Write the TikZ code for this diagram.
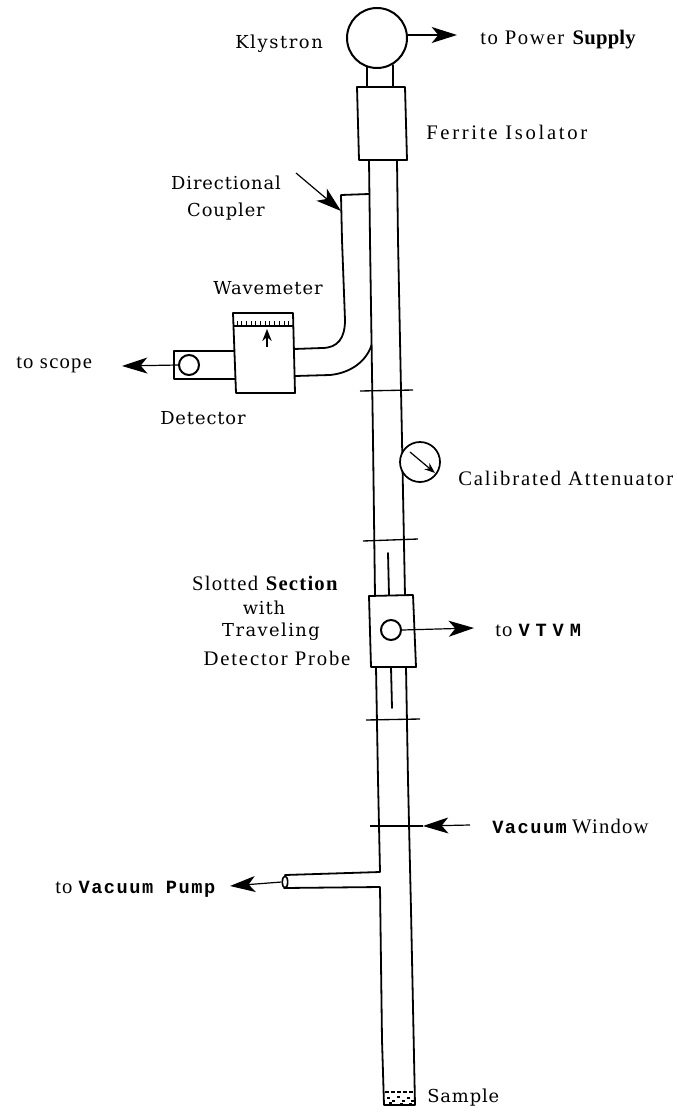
\documentclass[tikz,border=0pt]{standalone}
\usepackage{fontspec}
\setmainfont{Liberation Serif}
\newfontfamily\slabfont{DejaVu Serif}
\newfontfamily\typefont{Liberation Mono}
\usetikzlibrary{arrows.meta,shapes.geometric}
\newcommand{\vt}[1]{{\typefont\bfseries\fontsize{14}{16}\selectfont\addfontfeature{LetterSpace=8}#1}}
\newcommand{\lsp}[1]{\addfontfeature{LetterSpace=#1}}
\tikzset{
  x=0.75pt,y=-0.75pt,
  guide/.style={line width=1.35pt,line cap=round,line join=round},
  tickline/.style={line width=1pt},
  lead/.style={line width=0.9pt,-{Stealth[length=19pt,width=12pt,inset=5pt]}},
  lab/.style={font=\fontsize{15.5}{18}\selectfont,inner sep=0pt,text=black},
  slab/.style={font=\slabfont\fontsize{13.4}{20}\selectfont\addfontfeature{LetterSpace=5},inner sep=0pt,text=black},
  comp/.style={circle,draw,line width=1.5pt,inner sep=0pt,fill=white},
}
\begin{document}
\begin{tikzpicture}
\useasboundingbox (0,0) rectangle (677,1113);
% main guide
\draw[guide] (369,160) -- (370,240) -- (373,440) -- (375,596);
\draw[guide] (397,160) -- (398,240) -- (402,440) -- (405,596);
\draw[guide] (376,667) -- (378,780) -- (380,872) -- (285,875);
\draw[guide] (284,888) -- (380,887) -- (382,1040) -- (384,1105);
\draw[guide] (406,667) -- (408,780) -- (411,910) -- (415,1105);
% neck and isolator
\draw[guide] (367,65) -- (367,87);
\draw[guide] (393,65) -- (393,87);
\draw[guide,fill=white] (357,87) -- (405,87) -- (407,160) -- (359,160) -- cycle;
% coupler
\draw[guide] (369,194) -- (341,195) -- (342,240) -- (345,320)
  .. controls (345,338) and (338,348) .. (322,348) -- (294,349);
\draw[guide] (295,376) -- (330,375) .. controls (350,373) and (366,362) .. (371.6,345);
% ticks
\draw[tickline] (360,391) -- (413,390);
\draw[tickline] (363,541) -- (418,539);
\draw[tickline] (366,720) -- (420,719);
\draw[tickline] (370,826) -- (423,826);
% attenuator
\node[comp,minimum size=30pt,line width=1.3pt] (atten) at (420,462) {};
\coordinate (attenA) at (410,452);
\coordinate (attenB) at (435,473);
\draw[line width=0.9pt,-{Stealth[length=8pt,width=6pt]}] (attenA) -- (attenB);
% wavemeter
\draw[guide] (174,351) -- (235,351);
\draw[guide] (174,351) -- (174,379) -- (235,379);
\draw[guide,fill=white] (233,313) -- (293,313) -- (295,393) -- (236,393) -- cycle;
\draw[line width=1.8pt] (234,326) -- (293,326);
\foreach \i in {0,...,11} \draw[line width=.7pt] (237+\i*4.7,326) -- (237+\i*4.7,321);
\coordinate (wmA) at (267,347);
\coordinate (wmB) at (267,329);
\draw[line width=1.2pt,-{Stealth[length=9pt,width=7pt]}] (wmA) -- (wmB);
\node[comp,minimum size=15pt] (det) at (189,365) {};
\coordinate (scope) at (122,366);
\draw[lead] (det.west) -- (scope);
% klystron
\node[comp,minimum size=45pt] (kly) at (377,38) {};
\coordinate (psu) at (457,35);
\draw[lead] (kly.east |- psu) -- (psu);
\coordinate (dcA) at (296,173);
\coordinate (dcB) at (341,211);
\draw[lead] (dcA) -- (dcB);
% slotted section
\draw[guide] (388,553) -- (389,595);
\draw[guide] (391,667) -- (392,708);
\draw[guide,fill=white] (369,596) -- (413,595) -- (416,667) -- (371,667) -- cycle;
\node[comp,minimum size=15pt] (probe) at (391,630) {};
\coordinate (vtvm) at (474,628);
\draw[lead] (probe.east) -- (vtvm);
% vacuum window arrow
\coordinate (vwA) at (470,825);
\coordinate (vwB) at (423,826);
\draw[lead] (vwA) -- (vwB);
% pump
\node[draw,ellipse,line width=1.2pt,minimum width=4pt,minimum height=9pt,inner sep=0pt,fill=white] (port) at (285,882) {};
\coordinate (pump) at (230,886);
\draw[lead] (port.west) -- (pump);
% sample
\draw[line width=1.3pt,dash pattern=on 3pt off 1.5pt] (385,1092) -- (414,1092);
\draw[line width=1.4pt] (384,1105) -- (415,1105);
\foreach \x/\y in {387/1097,392/1100,397/1096,402/1100,407/1097,411/1100,389/1102,400/1103,409/1103}
  \fill (\x,\y) rectangle +(3,1.6);
% labels
\node[slab,anchor=west] (tk) at (235,44) {\lsp{9}Klystron};
\node[lab,anchor=west] (tp) at (480,40) {\lsp{8}to Power \textbf{\lsp{1}Supply}};
\node[lab,anchor=west] (tf) at (426,132) {\lsp{13}Ferrite Isolator};
\node[slab,align=center,anchor=center] (td) at (226,198) {Directional\\Coupler};
\node[slab,anchor=center] (tw) at (268,288) {Wavemeter};
\node[lab,anchor=west] (ts) at (16,365) {\lsp{6}to scope};
\node[slab,anchor=west] (tdet) at (160,418) {Detector};
\node[lab,anchor=west] (tc) at (458,478) {\lsp{9}Calibrated Attenuator};
\node[lab,anchor=center] (ts1) at (265.5,583) {\lsp{6}Slotted \textbf{\lsp{6}Section}};
\node[slab,anchor=center] (ts2) at (264,608) {with};
\node[slab,anchor=center] (ts3) at (271,632) {\lsp{8}Traveling};
\node[lab,anchor=center] (ts4) at (277,658) {\lsp{9}Detector Probe};
\node[lab,anchor=west] (tv) at (495,630) {\lsp{5}to \vt{\spaceskip=4.4pt\relax V T V M}};
\node[lab,anchor=west] (tvw) at (492,826) {\vt{Vacuum} \lsp{6}Window};
\node[lab,anchor=west] (tvp) at (55,889) {\lsp{5}to \vt{Vacuum Pump}};
\node[slab,anchor=west] (tsam) at (427,1098) {Sample};
\end{tikzpicture}
\end{document}
